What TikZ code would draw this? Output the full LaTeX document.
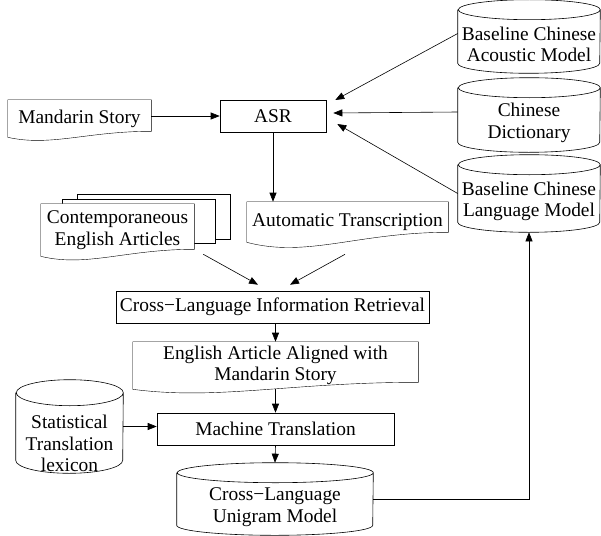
\documentclass[tikz,border=0pt]{standalone}
\usepackage{fontspec}
\setmainfont{Liberation Serif}
\usetikzlibrary{arrows.meta,calc,backgrounds}

\tikzset{
  box/.style={draw, minimum height=32pt, inner sep=2pt},
  docnode/.style={inner sep=2pt, align=center},
  db/.style={inner sep=0pt},
  dbtext/.style={align=center, yshift=-8pt},
  arr/.style={-{Triangle[length=9pt,width=7pt]}},
}
% document outline: flat top, wavy bottom (#2 = rise of the right corner)
\newcommand{\docpath}[2]{%
  \draw[fill=white] (#1.north west) -- (#1.north east) -- ($(#1.south east)+(0pt,#2pt)$)
    .. controls ($(#1.south west)!0.55!(#1.south east)+(0pt,#2pt)$)
    and ($(#1.south west)!0.3!(#1.south east)+(0pt,-1.6*#2pt)$) .. (#1.south west) -- cycle;}
% cylinder outline round a node (#2 = x radius, #3 = y radius of the ends)
\newcommand{\cylpath}[3]{%
  \draw ($(#1.north west)+(0pt,-#3pt)$) -- ($(#1.south west)+(0pt,#3pt)$)
    arc[start angle=180,end angle=360,x radius=#2pt,y radius=#3pt]
    -- ($(#1.north east)+(0pt,-#3pt)$)
    arc[start angle=0,end angle=360,x radius=#2pt,y radius=#3pt];}

\begin{document}
\begin{tikzpicture}[x=1pt,y=-1pt,line width=0.6pt,font=\fontsize{19.4}{21.5}\selectfont]
  \useasboundingbox (0,0) rectangle (601,535);
  % input side
  \node[docnode, minimum width=143pt, minimum height=37pt] (story) at (79.5,118.5) {Mandarin Story};
  \node[box, minimum width=106pt] (asr) at (273,116) {ASR};
  \node[db, minimum width=142pt, minimum height=73pt,
    label={[dbtext]center:{Baseline Chinese\\Acoustic Model}}] (acoustic) at (529,36.5) {};
  \node[db, minimum width=142pt, minimum height=74pt,
    label={[dbtext]center:{Chinese\\Dictionary}}] (dict) at (529,115) {};
  \node[db, minimum width=142pt, minimum height=77pt,
    label={[dbtext]center:{Baseline Chinese\\Language Model}}] (langmodel) at (529,193.5) {};
  \node[docnode, minimum width=201pt, minimum height=40pt] (trans) at (347.5,222) {Automatic Transcription};
  \node[docnode, minimum width=153pt, minimum height=52pt] (articles) at (117.5,230) {Contemporaneous\\English Articles};
  % retrieval and translation
  \node[box, minimum width=313pt] (clir) at (272.5,307) {Cross−Language Information Retrieval};
  \node[docnode, minimum width=285pt, minimum height=47pt] (aligned) at (275.5,365.5) {English Article Aligned with\\Mandarin Story};
  \node[box, minimum width=237pt] (mt) at (275.5,429) {Machine Translation};
  \node[db, minimum width=107pt, minimum height=93pt,
    label={[dbtext,yshift=-9pt]center:{Statistical\\Translation\\lexicon}}] (lexicon) at (69.5,426.5) {};
  \node[db, minimum width=196pt, minimum height=72pt,
    label={[dbtext]center:{Cross−Language\\Unigram Model}}] (unigram) at (275,499) {};

  \cylpath{acoustic}{71}{10}
  \cylpath{dict}{71}{10}
  \cylpath{langmodel}{71}{10}
  \cylpath{lexicon}{53.5}{13}
  \cylpath{unigram}{98}{10}
  \begin{scope}[on background layer]
    \draw[fill=white] ($(articles.north west)+(36pt,10pt)$) rectangle ($(articles.south east)+(36pt,17pt)$);
    \draw[fill=white] ($(articles.north west)+(21pt,5pt)$) rectangle ($(articles.south east)+(21pt,13pt)$);
    \docpath{articles}{7}
    \docpath{story}{6}
    \docpath{trans}{10}
    \docpath{aligned}{7}
  \end{scope}

  % connectors
  \draw[arr] (story.east |- asr.west) -- (asr.west);
  \draw[arr] ([yshift=3pt]acoustic.west) -- ([xshift=9pt,yshift=16pt]asr.east);
  \draw[arr] ([yshift=3pt]dict.west) -- ([xshift=7pt,yshift=3pt]asr.east);
  \draw[arr] (langmodel.west) -- ([xshift=11pt,yshift=-8pt]asr.east);
  \draw[arr] (asr.south) -- (asr.south |- trans.north);
  \draw[arr] ([xshift=9pt,yshift=2pt]articles.south east) -- ([xshift=-14.5pt,yshift=6pt]clir.north);
  \draw[arr] ([xshift=-2.5pt,yshift=-12pt]trans.south) -- ([xshift=17.5pt,yshift=6pt]clir.north);
  \draw[arr] (aligned.north |- clir.south) -- (aligned.north);
  \draw[arr] (aligned.south) -- (mt.north);
  \draw[arr] (lexicon.east) -- (lexicon.east -| mt.west);
  \draw[arr] (mt.south) -- (unigram.north);
  \draw[arr] (unigram.east) -| (langmodel.south);
\end{tikzpicture}
\end{document}
